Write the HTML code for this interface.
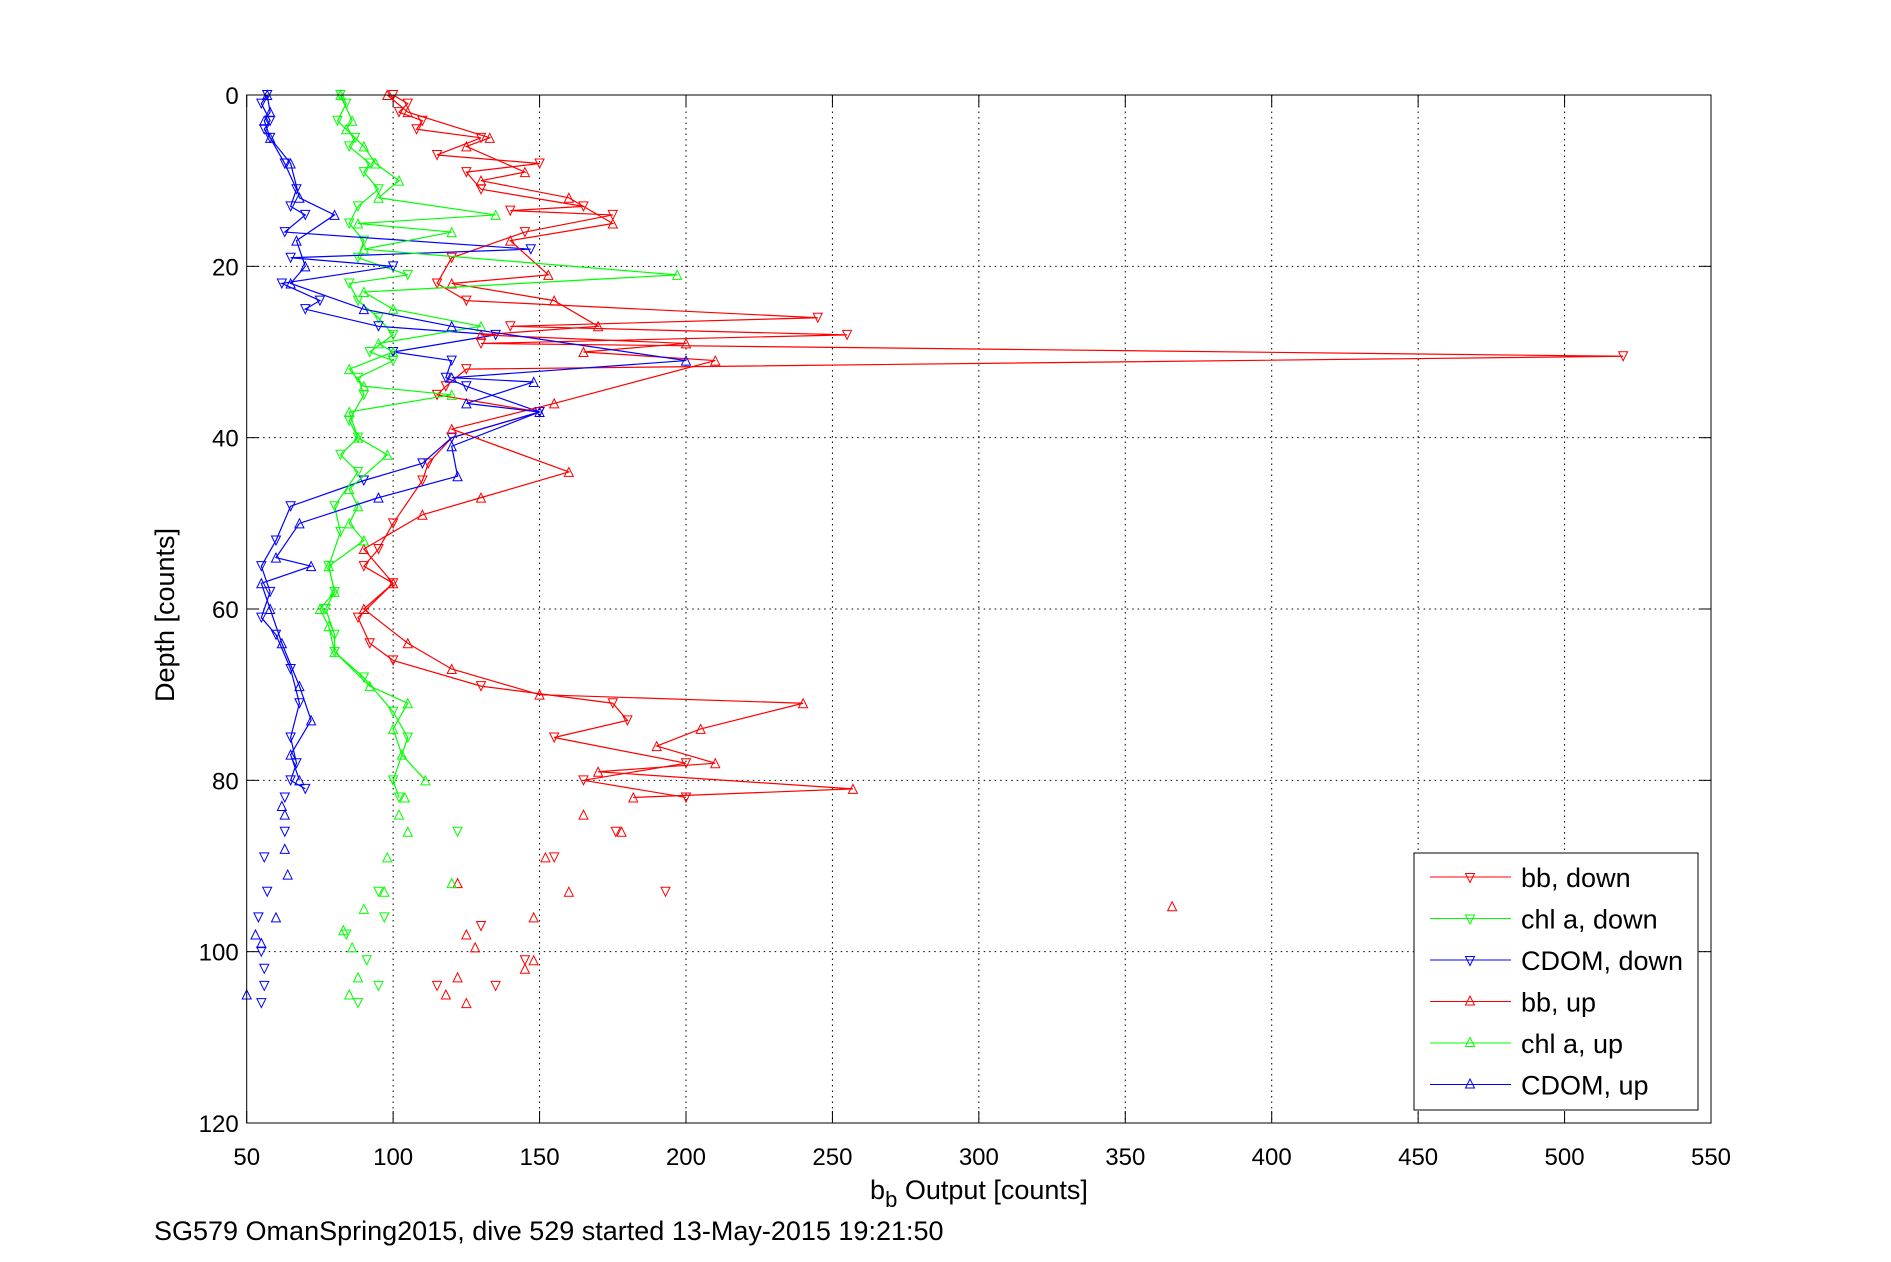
<!DOCTYPE html>
<html><head><meta charset="utf-8"><style>
html,body{margin:0;padding:0;background:#fff;}
svg{display:block;font-family:"Liberation Sans",Arial,sans-serif;}
</style></head><body>
<svg id="chart" width="1891" height="1262" viewBox="0 0 1891 1262"></svg>
<script>
// ---- data (value, depth) ----
const xTicks=[50,100,150,200,250,300,350,400,450,500,550];
const yTicks=[0,20,40,60,80,100,120];
const bbDownX=[100,105,102,110,108,130,115,150,125,130,165,140,175,145,120,115,125,245,140,255,130,520,125,118,115,150,120,112,110,100,95,90,100,88,92,100,130,175,180,155,200,165,200];
const bbDownY=[0,1,2,3,4,5,7,8,9,11,13,13.5,14,16,19,22,24,26,27,28,29,30.5,32,34,35,37,40,43,45,50,53,55,57,61,64,66,69,71,73,75,78,80,82];
const bbDownTailX=[176,155,193,130,145,135,115];
const bbDownTailY=[86,89,93,97,101,104,104];
const bbUpX=[98,105,133,125,145,130,160,175,140,153,120,155,170,130,200,165,210,155,120,160,130,110,90,100,90,105,120,150,240,205,190,210,170,257,182];
const bbUpY=[0,2,5,6,9,10,12,15,17,21,22,24,27,28,29,30,31,36,39,44,47,49,53,57,60,64,67,70,71,74,76,78,79,81,82];
const bbUpTailX=[165,178,152,122,160,366,148,125,128,148,145,122,118,125];
const bbUpTailY=[84,86,89,92,93,94.7,96,98,99.5,101,102,103,105,106];
const chlDownX=[82,84,81,87,85,92,90,95,88,85,90,88,105,85,88,95,100,92,100,88,90,85,88,82,88,80,82,78,80,77,80,80,90,100,105,100,102];
const chlDownY=[0,1,3,5,6,8,9,11,13,15,17,19,21,22,24,26,28,30,31,33,35,38,40,42,44,48,51,55,58,60,63,65,68,72,75,80,82];
const chlDownTailX=[122,95,97,84,91,95,88];
const chlDownTailY=[86,93,96,98,101,104,106];
const chlUpX=[82,86,84,90,94,102,95,135,88,120,90,197,90,100,130,95,100,85,90,120,85,88,98,85,88,85,90,78,80,75,78,80,92,105,100,103,111];
const chlUpY=[0,3,4,6,8,10,12,14,15,16,18,21,23,25,27,29,30,32,34,35,37,40,42,46,48,50,52,55,58,60,62,65,69,71,74,77,80];
const chlUpTailX=[104,102,105,98,120,97,90,83,86,88,85];
const chlUpTailY=[82,84,86,89,92,93,95,97.5,99.5,103,105];
const cdDownX=[57,55,58,56,58,63,67,65,70,63,147,65,100,62,75,70,95,135,100,120,118,125,150,120,110,90,65,60,55,58,55,60,65,68,65,67,65,70];
const cdDownY=[0,1,3,4,5,8,11,13,14,16,18,19,20,22,24,25,27,28,30,31,33,34,37,40,43,45,48,52,55,58,61,63,67,71,75,78,80,81];
const cdDownTailX=[63,63,56,57,54,55,56,56,55];
const cdDownTailY=[82,86,89,93,96,100,102,104,106];
const cdUpX=[57,58,56,58,65,68,80,67,70,65,90,120,200,120,148,125,150,120,122,95,68,60,72,55,58,62,68,72,65,68];
const cdUpY=[0,2,3,5,8,12,14,17,20,22,25,27,31,33,33.5,36,37,41,44.5,47,50,54,55,57,60,64,69,73,77,80];
const cdUpTailX=[62,63,63,64,60,53,55,50];
const cdUpTailY=[83,84,88,91,96,98,99,105];

const L=246.7,R=1711,T=95,B=1123;
const sx=v=>L+(v-50)/500*(R-L);
const sy=d=>T+d/120*(B-T);
const NS="http://www.w3.org/2000/svg";
const svg=document.getElementById('chart');
function mk(tag,attrs,parent){const e=document.createElementNS(NS,tag);for(const k in attrs)e.setAttribute(k,attrs[k]);(parent||svg).appendChild(e);return e;}

// grid & ticks
const grid=mk('g',{});


xTicks.forEach((t,i)=>{
  const x=sx(t);
  if(i>0&&i<xTicks.length-1){const g=mk('line',{x1:x,x2:x,y1:T,y2:B,stroke:'#000','stroke-width':1,'stroke-dasharray':'1.5,4'},grid);}
  mk('line',{x1:x,x2:x,y1:B,y2:B-12,stroke:'#000','stroke-width':1},grid);
  mk('line',{x1:x,x2:x,y1:T,y2:T+12,stroke:'#000','stroke-width':1},grid);
  const tx=mk('text',{x:x,y:B+42,'text-anchor':'middle','font-size':24});
  tx.textContent=t;
  
  
});
yTicks.forEach((t,i)=>{
  const y=sy(t);
  if(i>0&&i<yTicks.length-1){mk('line',{x1:L,x2:R,y1:y,y2:y,stroke:'#000','stroke-width':1,'stroke-dasharray':'1.5,4'},grid);}
  mk('line',{x1:L,x2:L+12,y1:y,y2:y,stroke:'#000','stroke-width':1},grid);
  mk('line',{x1:R,x2:R-12,y1:y,y2:y,stroke:'#000','stroke-width':1},grid);
  const tx=mk('text',{x:L-8,y:y+9,'text-anchor':'end','font-size':24});
  tx.textContent=t;
  
  
});

function tri(g,x,y,down,color){
  const s=4.5;
  const pts=down?`${x-s},${y-s} ${x+s},${y-s} ${x},${y+s}`:`${x-s},${y+s} ${x+s},${y+s} ${x},${y-s}`;
  mk('polygon',{points:pts,fill:'none',stroke:color,'stroke-width':1},g);
}
function series(name,xs,ys,txs,tys,down,color){
  const g=mk('g',{});
  
  
  mk('polyline',{points:xs.map((v,i)=>sx(v)+','+sy(ys[i])).join(' '),fill:'none',stroke:color,'stroke-width':1.2},g);
  xs.forEach((v,i)=>tri(g,sx(v),sy(ys[i]),down,color));
  txs.forEach((v,i)=>tri(g,sx(v),sy(tys[i]),down,color));
}
series('bb-down-series',bbDownX,bbDownY,bbDownTailX,bbDownTailY,true,'#ff0000');
series('chl-down-series',chlDownX,chlDownY,chlDownTailX,chlDownTailY,true,'#00ff00');
series('cdom-down-series',cdDownX,cdDownY,cdDownTailX,cdDownTailY,true,'#0000ff');
series('bb-up-series',bbUpX,bbUpY,bbUpTailX,bbUpTailY,false,'#ff0000');
series('chl-up-series',chlUpX,chlUpY,chlUpTailX,chlUpTailY,false,'#00ff00');
series('cdom-up-series',cdUpX,cdUpY,cdUpTailX,cdUpTailY,false,'#0000ff');

// axes box
const box=mk('rect',{x:L,y:T,width:R-L,height:B-T,fill:'none',stroke:'#000','stroke-width':1});



// legend
const lg=mk('g',{});


mk('rect',{x:1414,y:853,width:284,height:257,fill:'#fff',stroke:'#000','stroke-width':1},lg);
const legNames=['bb, down','chl a, down','CDOM, down','bb, up','chl a, up','CDOM, up'];
const legCols=['#ff0000','#00ff00','#0000ff','#ff0000','#00ff00','#0000ff'];
legNames.forEach((n,i)=>{
  const y=877+i*41.5;
  const e=mk('g',{},lg);
  
  
  mk('line',{x1:1430,x2:1511,y1:y,y2:y,stroke:legCols[i],'stroke-width':1},e);
  tri(e,1470,y+(i<3?1:-1),i<3,legCols[i]);
  const t=mk('text',{x:1521,y:y+10,'font-size':27},e);
  t.textContent=n;
});

// labels
const xl=mk('text',{x:979,y:1199,'text-anchor':'middle','font-size':27});


xl.innerHTML='b<tspan dy="8" font-size="22">b</tspan><tspan dy="-8"> Output [counts]</tspan>';
const yl=mk('text',{x:0,y:0,'text-anchor':'middle','font-size':27,transform:'translate(174,615) rotate(-90)'});


yl.textContent='Depth [counts]';
const ft=mk('text',{x:154,y:1240,'font-size':27});


ft.textContent='SG579 OmanSpring2015, dive 529 started 13-May-2015 19:21:50';
</script>
</body></html>
